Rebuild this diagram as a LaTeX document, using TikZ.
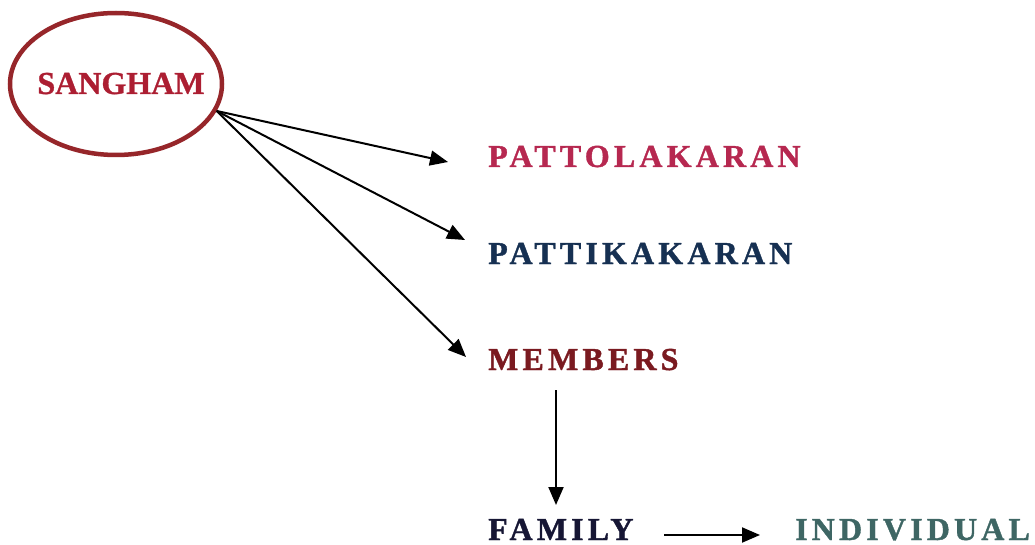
\documentclass[tikz,border=0pt]{standalone}
\usepackage{fontspec}
\setmainfont{Liberation Serif}
\newfontfamily\wideserif{Liberation Serif}[LetterSpace=13,FakeBold=1.2]
\newfontfamily\headserif{Liberation Serif}[FakeBold=1.0]
\usetikzlibrary{shapes.geometric,arrows.meta}
\definecolor{ringred}{RGB}{150,38,42}
\definecolor{sangred}{RGB}{172,30,50}
\definecolor{pattred}{RGB}{182,40,80}
\definecolor{pattblue}{RGB}{22,48,82}
\definecolor{memred}{RGB}{122,26,32}
\definecolor{famblue}{RGB}{22,22,52}
\definecolor{indteal}{RGB}{62,102,100}
\tikzset{
  label text/.style={inner sep=0pt, anchor=base west, font=\wideserif\bfseries\fontsize{32}{32}\selectfont},
  link/.style={line width=2pt, -{Triangle[length=18pt,width=15pt]}},
}
\begin{document}
\begin{tikzpicture}[x=1pt,y=-1pt]
\useasboundingbox (0,0) rectangle (1035,545);
% the association at the top left
\node[ellipse, draw=ringred, line width=4.5pt, minimum width=212pt, minimum height=142pt, inner sep=0pt] (sangham) at (116,84) {};
\node[inner sep=0pt, anchor=base, text=sangred, font=\headserif\bfseries\fontsize{32}{32}\selectfont] (sname) at (121,94) {SANGHAM};
% office bearers and members
\node[label text, text=pattred] (patto) at (488,167) {PATTOLAKARAN};
\node[label text, text=pattblue] (patti) at (488,264) {PATTIKAKARAN};
\node[label text, text=memred] (members) at (488,370) {MEMBERS};
\node[label text, text=famblue] (family) at (488,540) {FAMILY};
\node[label text, text=indteal] (indiv) at (795,540) {INDIVIDUAL};
% arrow end points
\coordinate (src) at (sangham.-15);
\coordinate (e1) at (448,162);
\coordinate (e2) at (465,240);
\coordinate (e3) at (466,357);
\coordinate (m1) at (556,390);
\coordinate (m2) at (556,505);
\coordinate (f1) at (664,535);
\coordinate (f2) at (760,535);
\draw[link] (src) -- (e1);
\draw[link] (src) -- (e2);
\draw[link] (src) -- (e3);
\draw[link] (m1) -- (m2);
\draw[link] (f1) -- (f2);
\end{tikzpicture}
\end{document}
